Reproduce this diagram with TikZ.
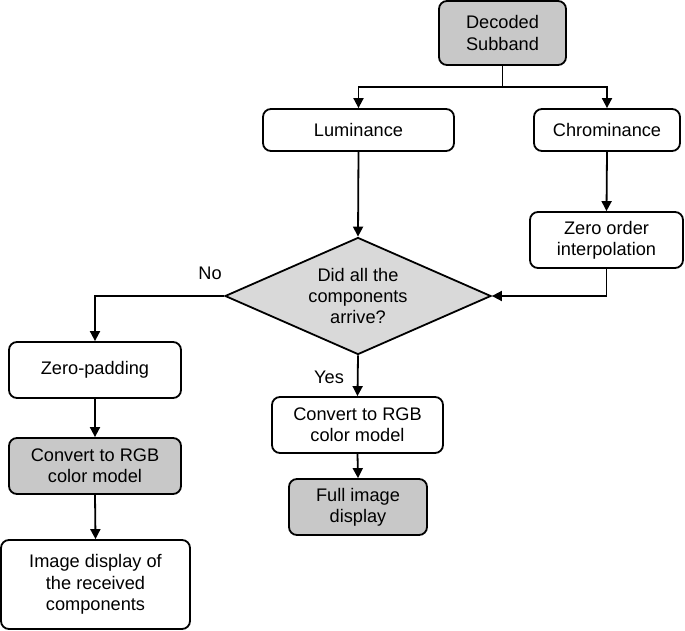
\documentclass[tikz,border=0pt]{standalone}
\usepackage{fontspec}
\setmainfont{Liberation Sans}
\usetikzlibrary{shapes.geometric,arrows.meta}
\definecolor{boxgray}{HTML}{C8C8C8}
\definecolor{diagray}{HTML}{D9D9D9}
\begin{document}
\begin{tikzpicture}[x=1pt,y=-1pt,
  every node/.style={font=\fontsize{18.2}{21.3}\selectfont},
  box/.style={draw=black,line width=1.8pt,rounded corners=8pt,fill=white,align=center,inner sep=0pt},
  graybox/.style={box,fill=boxgray},
  decision/.style={draw=black,line width=1.8pt,shape=diamond,aspect=2.27,inner sep=0pt,fill=diagray,align=center,minimum width=266pt,minimum height=117pt},
  arr/.style={line width=1.8pt,-{Triangle[length=10pt,width=10pt]}},
  lbl/.style={inner sep=0pt}]
\useasboundingbox (0,0) rectangle (685,631);
\node[graybox,minimum width=127pt,minimum height=64pt] (dec) at (502.5,33) {Decoded\\Subband};
\node[box,minimum width=191pt,minimum height=42pt] (lum) at (358.5,130) {Luminance};
\node[box,minimum width=146pt,minimum height=42pt] (chr) at (607,130) {Chrominance};
\node[box,minimum width=153pt,minimum height=56pt] (zoi) at (606.5,240) {Zero order\\interpolation};
\node[decision] (dia) at (358,296) {Did all the\\components\\arrive?};
\node[box,minimum width=172pt,minimum height=56pt] (zp) at (95,370) {Zero-padding};
\node[graybox,minimum width=172pt,minimum height=56pt] (cvl) at (95,466) {Convert to RGB\\color model};
\node[box,minimum width=189pt,minimum height=89pt] (idr) at (95.5,584.5) {Image display of\\the received\\components};
\node[box,minimum width=171pt,minimum height=56pt] (cvm) at (357.5,425) {Convert to RGB\\color model};
\node[graybox,minimum width=138pt,minimum height=56pt] (fid) at (358,507) {Full image\\display};
\node[lbl] (no) at (210,273) {No};
\node[lbl] (yes) at (329,377) {Yes};
\coordinate (split) at (502.5,87);
\draw[line width=1.8pt] (dec.south) -- (split);
\draw[arr] (split) -| (lum.north);
\draw[arr] (split) -| (chr.north);
\draw[arr] (lum.south) -- (dia.north);
\draw[arr] (chr.south) -- (zoi.north);
\draw[arr] (zoi.south) |- (dia.east);
\draw[arr] (dia.west) -| (zp.north);
\draw[arr] (dia.south) -- (cvm.north);
\draw[arr] (zp.south) -- (cvl.north);
\draw[arr] (cvl.south) -- (idr.north);
\draw[arr] (cvm.south) -- (fid.north);
\end{tikzpicture}
\end{document}
